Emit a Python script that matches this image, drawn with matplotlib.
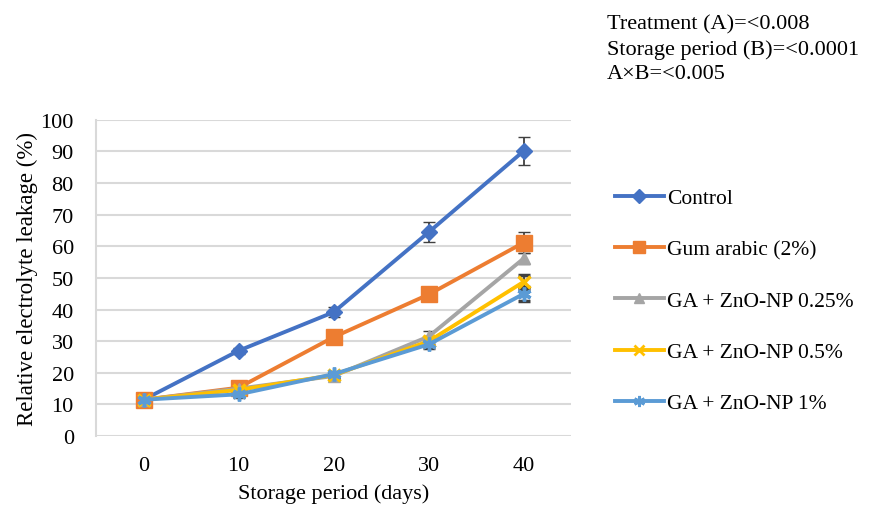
import matplotlib.pyplot as plt
from matplotlib.lines import Line2D
import numpy as np

plt.rcParams['font.family'] = ['Liberation Serif', 'DejaVu Serif']

days = ['0', '10', '20', '30', '40']
series = ['Control', 'Gum arabic (2%)', 'GA + ZnO-NP 0.25%',
          'GA + ZnO-NP 0.5%', 'GA + ZnO-NP 1%']

control = [11.5, 27.0, 39.2, 64.5, 90.2]
gum_arabic = [11.5, 15.3, 31.3, 44.8, 61.2]
ga_025 = [11.5, 15.0, 19.0, 31.5, 56.2]
ga_05 = [11.5, 14.6, 19.3, 30.0, 48.8]
ga_1 = [11.5, 13.2, 19.6, 29.0, 45.0]

control_err = [0.8, 1.0, 1.5, 3.2, 4.4]
gum_arabic_err = [0.8, 0.8, 1.0, 1.2, 3.4]
ga_025_err = [0.6, 0.8, 0.8, 1.6, 1.8]
ga_05_err = [0.6, 0.8, 0.8, 1.2, 2.2]
ga_1_err = [0.6, 0.8, 0.8, 1.2, 2.2]

values = [control, gum_arabic, ga_025, ga_05, ga_1]
errors = [control_err, gum_arabic_err, ga_025_err, ga_05_err, ga_1_err]
colors = ['#4472C4', '#ED7D31', '#A5A5A5', '#FFC000', '#5B9BD5']
markers = ['D', 's', '^', 'x', (6, 2, 0)]
msizes = [8.5, 11, 9, 9, 10]

fig = plt.figure(figsize=(8.69, 5.10), dpi=100)
ax = fig.add_axes([0.1105, 0.143, 0.547, 0.62])

x = np.arange(len(days))
handles = []
for vals, err, c, m, ms, name in zip(values, errors, colors, markers, msizes, series):
    thin = m in ('x', (6, 2, 0))
    ax.errorbar(x, vals, yerr=err, color=c, ecolor='#404040', elinewidth=1.3,
                capsize=4, capthick=1.5, lw=2.8, marker=m, ms=ms,
                mew=2.5 if thin else 1, mec=c, mfc=c, zorder=3)
    # legend keys without the error bars
    handles.append(Line2D([], [], color=c, lw=2.8, marker=m, ms=ms * 0.8,
                          mew=2 if thin else 1, mec=c, mfc=c, label=name))

ax.set_xlim(-0.5, 4.5)
ax.set_ylim(0, 100)
ax.set_yticks(np.arange(0, 101, 10))
ax.set_xticks(x, labels=days)
ax.grid(axis='y', color='#D9D9D9', lw=1.5)
ax.set_axisbelow(True)
for s in ['top', 'right', 'bottom']:
    ax.spines[s].set_visible(False)
ax.spines['left'].set_color('#D9D9D9')
ax.spines['left'].set_linewidth(1.5)
ax.tick_params(length=0, labelsize=16)
ax.tick_params(axis='x', pad=14)
ax.tick_params(axis='y', pad=16)

ax.set_xlabel('Storage period (days)', fontsize=16, labelpad=6)
ax.set_ylabel('Relative electrolyte leakage (%)', fontsize=16.5, labelpad=2)

fig.legend(handles=handles, loc='upper left', bbox_to_anchor=(0.685, 0.667),
           frameon=False, fontsize=15.5, labelspacing=1.45, handlelength=2.3,
           handletextpad=0.15)

fig.text(0.698, 0.97, 'Treatment (A)=<0.008\nStorage period (B)=<0.0001\nA×B=<0.005',
         fontsize=16, va='top', ha='left', linespacing=1.38)

fig.savefig('out.png', dpi=100)
